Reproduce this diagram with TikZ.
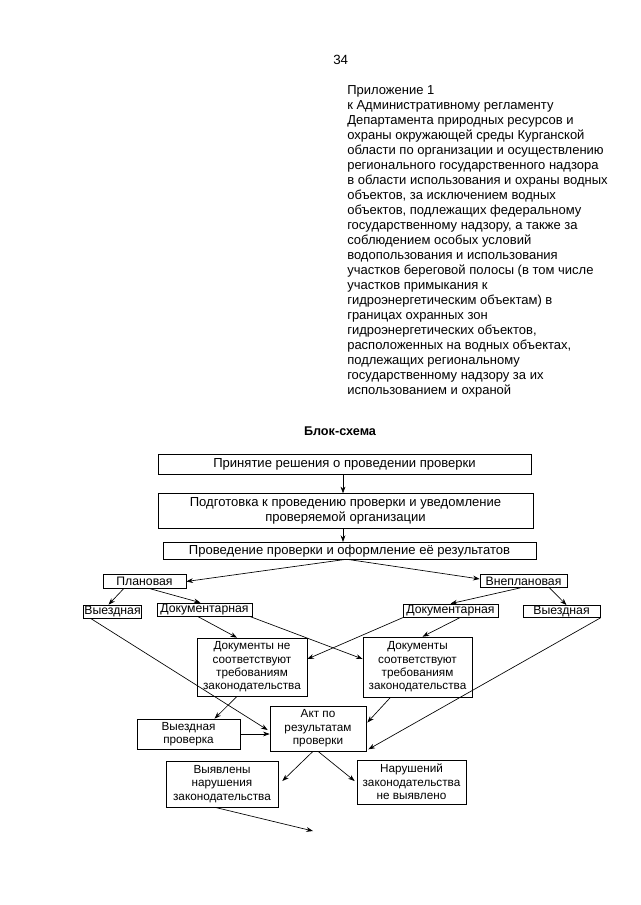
\documentclass[tikz,border=0pt]{standalone}
\usepackage{fontspec}
\setmainfont{Liberation Sans}
\usepackage{tikz}
\usetikzlibrary{positioning}
\usetikzlibrary{calc}
\usetikzlibrary{arrows.meta}

\tikzset{
    box/.style={draw, line width=0.5pt, inner sep=0.5pt, align=center},
    sz/.style 2 args={minimum width=#1*0.75pt, minimum height=#2*0.75pt},
    big/.style={font=\fontsize{9.8}{11}\selectfont},
    mid/.style={font=\fontsize{9.2}{10}\selectfont},
    small/.style={font=\fontsize{8.8}{10}\selectfont},
    lnk/.style={-{Stealth[length=5pt,width=3.6pt]}, line width=0.5pt},
}

\begin{document}
\begin{tikzpicture}[x=0.75pt, y=-0.75pt]

    \useasboundingbox[fill=white] (0,0) rectangle (640,905);

    \node[anchor=base west, inner sep=0pt, font=\fontsize{10}{11}\selectfont] (pg) at (333,65) {34};
    \node[anchor=north west, inner sep=0pt, align=left, font=\fontsize{9.75}{11.25}\selectfont] (app) at (347,85) {%
        Приложение 1\\
        к Административному регламенту\\
        Департамента природных ресурсов и\\
        охраны окружающей среды Курганской\\
        области по организации и осуществлению\\
        регионального государственного надзора\\
        в области использования и охраны водных\\
        объектов, за исключением водных\\
        объектов, подлежащих федеральному\\
        государственному надзору, а также за\\
        соблюдением особых условий\\
        водопользования и использования\\
        участков береговой полосы (в том числе\\
        участков примыкания к\\
        гидроэнергетическим объектам) в\\
        границах охранных зон\\
        гидроэнергетических объектов,\\
        расположенных на водных объектах,\\
        подлежащих региональному\\
        государственному надзору за их\\
        использованием и охраной};

    \node[font=\fontsize{9.5}{10}\selectfont\bfseries] (ttl) at (340,431) {Блок-схема};

    \node[box, big, sz={373}{20}] (p1) at (344.5,464) {Принятие решения о проведении проверки};
    \node[box, big, sz={375}{35}, below=14.25pt of p1, xshift=0.75pt] (p2) {Подготовка к проведению проверки и уведомление\\проверяемой организации};
    \node[box, big, sz={373}{17}, below=9.75pt of p2, xshift=3pt] (p3) {Проведение проверки и оформление её результатов};

    \node[box, mid, sz={83}{14}] (plan) at (144.5,581.5) {Плановая};
    \node[box, mid, sz={87}{13}] (vplan) at (523.5,581) {Внеплановая};

    \node[box, mid, sz={55}{13}] (vyl) at (112.5,611.5) {Выездная};
    \node[box, mid, sz={95}{13}] (docl) at (204.5,609.5) {Документарная};
    \node[box, mid, sz={95}{13}] (docr) at (450.5,610.5) {Документарная};
    \node[box, mid, sz={77}{12}] (vyr) at (561.5,611.5) {Выездная};

    \node[box, small, sz={110}{58}] (ne) at (252,667) {Документы не\\соответствуют\\требованиям\\законодательства};
    \node[box, small, sz={109}{60}] (so) at (417.5,667) {Документы\\соответствуют\\требованиям\\законодательства};

    \node[box, small, sz={96}{45}] (akt) at (318,728.5) {Акт по\\результатам\\проверки};
    \node[box, small, sz={103}{30}] (vp) at (188.5,734) {Выездная\\проверка};

    \node[box, small, sz={112}{46}] (vyav) at (222,784) {Выявлены\\нарушения\\законодательства};
    \node[box, small, sz={109}{44}] (net) at (411.5,782) {Нарушений\\законодательства\\не выявлено};

    \coordinate (fin) at (313,831);

    \draw[lnk] (p1.south -| 343,0) -- (p2.north -| 343,0);
    \draw[lnk] (p2.south -| 343,0) -- (p3.north -| 343,0);
    \draw[lnk] ($(p3.south)+(-6,0)$) -- (plan.east);
    \draw[lnk] ($(p3.south)+(0,0)$) -- ($(vplan.west)+(0,-2)$);

    \draw[lnk] ($(plan.south)+(-21,0)$) -- ($(vyl.north)+(-4,0)$);
    \draw[lnk] ($(plan.south)+(6,0)$) -- ($(docl.north)+(-4,0)$);
    \draw[lnk] ($(vplan.south)+(-3,0)$) -- (docr.north);
    \draw[lnk] ($(vplan.south)+(26,0)$) -- ($(vyr.north)+(5,0)$);

    \draw[lnk] ($(docl.south)+(-7,0)$) -- ($(ne.north)+(-15,0)$);
    \draw[lnk] ($(docl.south)+(45,0)$) -- ($(so.west)+(0,-8)$);
    \draw[lnk] ($(docr.south)+(-47,0)$) -- ($(ne.east)+(0,-8)$);
    \draw[lnk] ($(docr.south)+(10,0)$) -- ($(so.north)+(5,0)$);

    \draw[lnk] ($(vyl.south)+(-22,0)$) -- ($(akt.west)+(-2,1.5)$);
    \draw[lnk] (vyr.south east) -- ($(akt.south east)+(2,-2)$);
    \draw[lnk] ($(ne.south)+(-15,0)$) -- ($(vp.north)+(26,0)$);
    \draw[lnk] (vp.east) -- (vp.east -| akt.west);
    \draw[lnk] ($(so.south)+(-27,0)$) -- ($(akt.east)+(1,-6)$);

    \draw[lnk] ($(akt.south)+(-5,0)$) -- ($(vyav.east)+(4,-3)$);
    \draw[lnk] (akt.south) -- ($(net.west)+(-2,-1)$);
    \draw[lnk] ($(vyav.south)+(-7,0)$) -- (fin);

\end{tikzpicture}
\end{document}
